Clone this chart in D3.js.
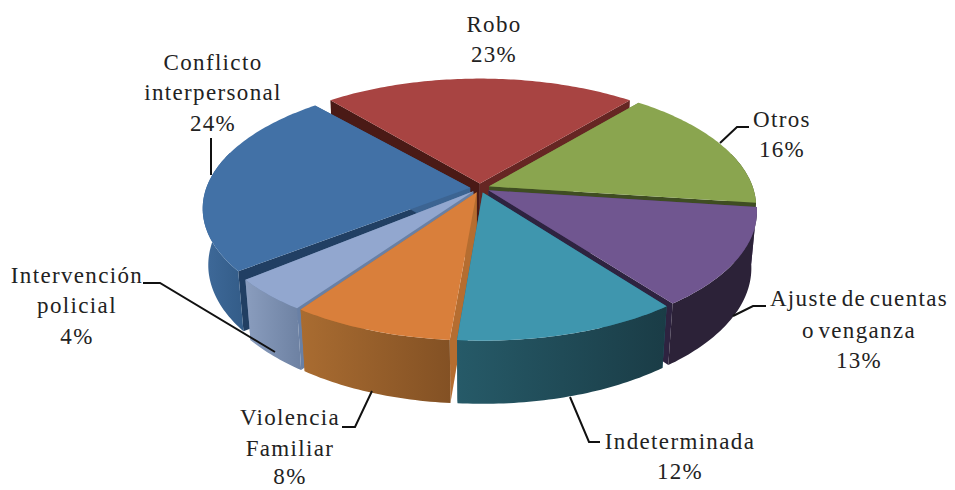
<!DOCTYPE html>
<html><head><meta charset="utf-8">
<script src="https://cdn.jsdelivr.net/npm/d3@7"></script>
<style>html,body{margin:0;padding:0;background:#fff}svg{display:block}text{font-family:"Liberation Serif",serif;font-size:23px;fill:#222;letter-spacing:1.35px;word-spacing:-3.5px;text-anchor:middle}</style>
</head><body><svg id="c" width="955" height="490"></svg>
<script>
const categories = ["Otros","Ajuste de cuentas o venganza","Indeterminada","Violencia Familiar","Intervención policial","Conflicto interpersonal","Robo"];
const values = [16,12.6,11.6,8.4,4.3,24.4,22.6];
const percentLabels = ["16%","13%","12%","8%","4%","24%","23%"];
const topColors = ["#8aa54f","#705690","#3f96ae","#d97f3b","#92a7cf","#4271a6","#a84442"];
const wallStart = ["#3f4d22","#2c2238","#265a68","#a96c31","#8a9dbe","#3f6a9a","#7a2f2d"];
const wallEnd = ["#3f4d22","#2c2238","#1a3c46","#835124","#6d81a2","#335c88","#7a2f2d"];
const cutStartColors = ["#6e843f","#4d3a66","#2b6a7c","#b56d30","#6980a5","#213f63","#4a1a16"];
const cutEndColors = ["#3f4d22","#2e2340","#2b6a7c","#b56d30","#6980a5","#3c6492","#662623"];
const drawOrder = [6,5,0,1,4,3,2];
const startTrimDeg = [0,0,0,0,0,1.6,1.8];
const endTrimDeg = [0,0,0,0,0.3,0,0];

const labelLines = [["Otros"],["Ajuste de cuentas","o venganza"],["Indeterminada"],["Violencia","Familiar"],["Intervención","policial"],["Conflicto","interpersonal"],["Robo"]];
const labelX = [782,859,680,290,77,213,494];
const labelY = [[127,157],[306,338,368],[449,479],[425,456,484],[283,313,344],[70,100,131],[32,62]];
const leaders = [
 [[720,143],[737,127],[749,127]],
 [[733,316],[753,306],[766,306]],
 [[570,397],[589,442],[600,442]],
 [[372,391],[355,427],[342,427]],
 [[275,352],[160,283],[143,283]],
 [[211,175],[211,138]]
];

const svg = d3.select("#c");
const cx=480, cy=188, bx=264, ay=123, k=0.16, zy=57, zw=0.02, explode=0.037;
const project=(x,y,z)=>{const w=1-k*y+zw*z;return [cx+bx*x/w, cy+(ay*y+zy*z)/w];};
const rad=Math.PI/180, a0=39.9*rad;
const arcs=d3.pie().sort(null).startAngle(a0).endAngle(a0+2*Math.PI)(values);
const line=d3.line();
const defs=svg.append("defs");

arcs.forEach((d,i)=>{
  const g=defs.append("linearGradient").attr("id","w"+i);
  g.append("stop").attr("offset",0).attr("stop-color",wallStart[i]);
  g.append("stop").attr("offset",1).attr("stop-color",wallEnd[i]);
});

drawOrder.forEach(i=>{
  const d=arcs[i], mid=(d.startAngle+d.endAngle)/2;
  const s=d.startAngle+startTrimDeg[i]*rad, e=d.endAngle-endTrimDeg[i]*rad;
  const ox=explode*Math.sin(mid), oy=-explode*Math.cos(mid);
  const n=Math.max(8,Math.ceil((e-s)*60));
  const rim=d3.range(n+1).map(j=>{const t=s+(e-s)*j/n;return [ox+Math.sin(t),oy-Math.cos(t)];});
  const P=(p,z)=>project(p[0],p[1],z);
  const apex=[ox,oy];
  const g=svg.append("g");
  const first=rim[0], last=rim[n];
  g.append("path").attr("d",line([P(apex,0),P(first,0),P(first,1),P(apex,1)])+"Z").attr("fill",cutStartColors[i]);
  g.append("path").attr("d",line([P(apex,0),P(last,0),P(last,1),P(apex,1)])+"Z").attr("fill",cutEndColors[i]);
  const front=rim.filter(p=>p[1]>-0.3);
  if(front.length>1){
    const wall=front.map(p=>P(p,0)).concat(front.slice().reverse().map(p=>P(p,1)));
    g.append("path").attr("d",line(wall)+"Z").attr("fill",`url(#w${i})`);
  }
  const top=[P(apex,0)].concat(rim.map(p=>P(p,0)));
  g.append("path").attr("d",line(top)+"Z").attr("fill",topColors[i]);
});

leaders.forEach(l=>svg.append("path").attr("d",line(l)).attr("fill","none").attr("stroke","#111").attr("stroke-width",2));

labelLines.forEach((ls,i)=>{
  ls.concat([percentLabels[i]]).forEach((s,j)=>svg.append("text").attr("x",labelX[i]).attr("y",labelY[i][j]).text(s));
});
</script></body></html>
